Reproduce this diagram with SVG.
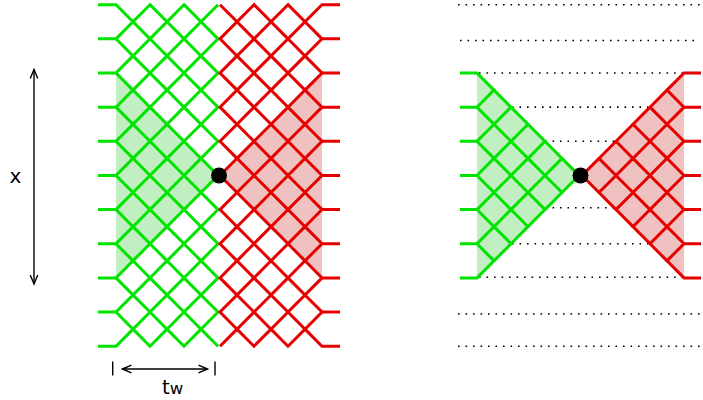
<svg xmlns="http://www.w3.org/2000/svg" width="703" height="400" viewBox="0 0 703 400">
<style>
.g{fill:none;stroke:#00e400;stroke-width:3;stroke-linejoin:miter}
.r{fill:none;stroke:#e60000;stroke-width:3;stroke-linejoin:miter}
.gf{fill:#c1efc1;stroke:none}
.rf{fill:#efc1c1;stroke:none}
.dot{fill:#000}
.dl{fill:none;stroke:#000;stroke-width:1.6;stroke-dasharray:1.6 5.9}
.dim{fill:none;stroke:#000;stroke-width:1.4}
.lbl{font-family:"DejaVu Sans","Liberation Sans",sans-serif;fill:#000}
</style>
<defs>
<marker id="arr" viewBox="-11 -6 13 12" refX="0" refY="0" markerWidth="13" markerHeight="12" markerUnits="userSpaceOnUse" orient="auto-start-reverse">
<path d="M-9,-3.8 L0,0 L-9,3.8" fill="none" stroke="#000" stroke-width="1.4"/>
</marker>
</defs>

<g id="left-panel">
<g id="left-shading">
<polygon class="gf" points="116,73 218,175.45 116,277.9"/>
<polygon class="rf" points="322,73 220,175.45 322,277.9"/>
</g>
<g id="left-green">
<path class="g" d="M98 4.7 H116 l17 17.075 l-17 17.075 l17 17.075 l-17 17.075 l17 17.075 l-17 17.075 l17 17.075 l-17 17.075 l17 17.075 l-17 17.075 l17 17.075 l-17 17.075 l17 17.075 l-17 17.075 l17 17.075 l-17 17.075 l17 17.075 l-17 17.075 l17 17.075 l-17 17.075 H98"/>
<path class="g" d="M150 4.7 l-17 17.075 l17 17.075 l-17 17.075 l17 17.075 l-17 17.075 l17 17.075 l-17 17.075 l17 17.075 l-17 17.075 l17 17.075 l-17 17.075 l17 17.075 l-17 17.075 l17 17.075 l-17 17.075 l17 17.075 l-17 17.075 l17 17.075 l-17 17.075 l17 17.075 l17 -17.075 l-17 -17.075 l17 -17.075 l-17 -17.075 l17 -17.075 l-17 -17.075 l17 -17.075 l-17 -17.075 l17 -17.075 l-17 -17.075 l17 -17.075 l-17 -17.075 l17 -17.075 l-17 -17.075 l17 -17.075 l-17 -17.075 l17 -17.075 l-17 -17.075 l17 -17.075 l-17 -17.075 Z"/>
<path class="g" d="M184 4.7 l-17 17.075 l17 17.075 l-17 17.075 l17 17.075 l-17 17.075 l17 17.075 l-17 17.075 l17 17.075 l-17 17.075 l17 17.075 l-17 17.075 l17 17.075 l-17 17.075 l17 17.075 l-17 17.075 l17 17.075 l-17 17.075 l17 17.075 l-17 17.075 l17 17.075 l17 -17.075 l-17 -17.075 l17 -17.075 l-17 -17.075 l17 -17.075 l-17 -17.075 l17 -17.075 l-17 -17.075 l17 -17.075 l-17 -17.075 l17 -17.075 l-17 -17.075 l17 -17.075 l-17 -17.075 l17 -17.075 l-17 -17.075 l17 -17.075 l-17 -17.075 l17 -17.075 l-17 -17.075 Z"/>
<path class="g" d="M218 4.7 l-17 17.075 l17 17.075 l-17 17.075 l17 17.075 l-17 17.075 l17 17.075 l-17 17.075 l17 17.075 l-17 17.075 l17 17.075 l-17 17.075 l17 17.075 l-17 17.075 l17 17.075 l-17 17.075 l17 17.075 l-17 17.075 l17 17.075 l-17 17.075 l17 17.075"/>
<path class="g" d="M98 38.85 H116 M98 73 H116 M98 107.15 H116 M98 141.3 H116 M98 175.45 H116 M98 209.6 H116 M98 243.75 H116 M98 277.9 H116 M98 312.05 H116"/>
</g>
<g id="left-red">
<path class="r" d="M220 4.7 l17 17.075 l-17 17.075 l17 17.075 l-17 17.075 l17 17.075 l-17 17.075 l17 17.075 l-17 17.075 l17 17.075 l-17 17.075 l17 17.075 l-17 17.075 l17 17.075 l-17 17.075 l17 17.075 l-17 17.075 l17 17.075 l-17 17.075 l17 17.075 l-17 17.075"/>
<path class="r" d="M254 4.7 l-17 17.075 l17 17.075 l-17 17.075 l17 17.075 l-17 17.075 l17 17.075 l-17 17.075 l17 17.075 l-17 17.075 l17 17.075 l-17 17.075 l17 17.075 l-17 17.075 l17 17.075 l-17 17.075 l17 17.075 l-17 17.075 l17 17.075 l-17 17.075 l17 17.075 l17 -17.075 l-17 -17.075 l17 -17.075 l-17 -17.075 l17 -17.075 l-17 -17.075 l17 -17.075 l-17 -17.075 l17 -17.075 l-17 -17.075 l17 -17.075 l-17 -17.075 l17 -17.075 l-17 -17.075 l17 -17.075 l-17 -17.075 l17 -17.075 l-17 -17.075 l17 -17.075 l-17 -17.075 Z"/>
<path class="r" d="M288 4.7 l-17 17.075 l17 17.075 l-17 17.075 l17 17.075 l-17 17.075 l17 17.075 l-17 17.075 l17 17.075 l-17 17.075 l17 17.075 l-17 17.075 l17 17.075 l-17 17.075 l17 17.075 l-17 17.075 l17 17.075 l-17 17.075 l17 17.075 l-17 17.075 l17 17.075 l17 -17.075 l-17 -17.075 l17 -17.075 l-17 -17.075 l17 -17.075 l-17 -17.075 l17 -17.075 l-17 -17.075 l17 -17.075 l-17 -17.075 l17 -17.075 l-17 -17.075 l17 -17.075 l-17 -17.075 l17 -17.075 l-17 -17.075 l17 -17.075 l-17 -17.075 l17 -17.075 l-17 -17.075 Z"/>
<path class="r" d="M340 4.7 H322 l-17 17.075 l17 17.075 l-17 17.075 l17 17.075 l-17 17.075 l17 17.075 l-17 17.075 l17 17.075 l-17 17.075 l17 17.075 l-17 17.075 l17 17.075 l-17 17.075 l17 17.075 l-17 17.075 l17 17.075 l-17 17.075 l17 17.075 l-17 17.075 l17 17.075 H340"/>
<path class="r" d="M322 38.85 H340 M322 73 H340 M322 107.15 H340 M322 141.3 H340 M322 175.45 H340 M322 209.6 H340 M322 243.75 H340 M322 277.9 H340 M322 312.05 H340"/>
</g>
<circle id="left-point" class="dot" cx="219" cy="175.5" r="8"/>
</g>

<g id="right-panel">
<g id="right-dotted">
<path class="dl" d="M458 4.7 H700"/>
<path class="dl" d="M460 40.5 H700"/>
<path class="dl" d="M479 73 H683"/>
<path class="dl" d="M512 107.15 H648"/>
<path class="dl" d="M545 141.3 H615"/>
<path class="dl" d="M545 207.8 H614"/>
<path class="dl" d="M512 243.75 H648"/>
<path class="dl" d="M479 277.2 H683"/>
<path class="dl" d="M458 314 H700"/>
<path class="dl" d="M458 346.3 H700"/>
</g>
<g id="right-shading">
<polygon class="gf" points="477,73 579,175.45 477,277.9"/>
<polygon class="rf" points="684,73 582,175.45 684,277.9"/>
</g>
<g id="right-green">
<path class="g" d="M460 73 H477 l17 17.075 l-17 17.075 l17 17.075 l-17 17.075 l17 17.075 l-17 17.075 l17 17.075 l-17 17.075 l17 17.075 l-17 17.075 l17 17.075 l-17 17.075 H460"/>
<path class="g" d="M494 90.075 l17 17.075 l-17 17.075 l17 17.075 l-17 17.075 l17 17.075 l-17 17.075 l17 17.075 l-17 17.075 l17 17.075 l-17 17.075"/>
<path class="g" d="M511 107.15 l17 17.075 l-17 17.075 l17 17.075 l-17 17.075 l17 17.075 l-17 17.075 l17 17.075 l-17 17.075"/>
<path class="g" d="M528 124.225 l17 17.075 l-17 17.075 l17 17.075 l-17 17.075 l17 17.075 l-17 17.075"/>
<path class="g" d="M545 141.3 l17 17.075 l-17 17.075 l17 17.075 l-17 17.075"/>
<path class="g" d="M562 158.375 l17 17.075 l-17 17.075"/>
<path class="g" d="M460 107.15 H477 M460 141.3 H477 M460 175.45 H477 M460 209.6 H477 M460 243.75 H477"/>
</g>
<g id="right-red">
<path class="r" d="M701 73 H684 l-17 17.075 l17 17.075 l-17 17.075 l17 17.075 l-17 17.075 l17 17.075 l-17 17.075 l17 17.075 l-17 17.075 l17 17.075 l-17 17.075 l17 17.075 H701"/>
<path class="r" d="M667 90.075 l-17 17.075 l17 17.075 l-17 17.075 l17 17.075 l-17 17.075 l17 17.075 l-17 17.075 l17 17.075 l-17 17.075 l17 17.075"/>
<path class="r" d="M650 107.15 l-17 17.075 l17 17.075 l-17 17.075 l17 17.075 l-17 17.075 l17 17.075 l-17 17.075 l17 17.075"/>
<path class="r" d="M633 124.225 l-17 17.075 l17 17.075 l-17 17.075 l17 17.075 l-17 17.075 l17 17.075"/>
<path class="r" d="M616 141.3 l-17 17.075 l17 17.075 l-17 17.075 l17 17.075"/>
<path class="r" d="M599 158.375 l-17 17.075 l17 17.075"/>
<path class="r" d="M684 107.15 H701 M684 141.3 H701 M684 175.45 H701 M684 209.6 H701 M684 243.75 H701"/>
</g>
<circle id="right-point" class="dot" cx="580.5" cy="175.5" r="8"/>
</g>

<g id="connectors">
<line class="dim" x1="34" y1="69.5" x2="34" y2="284" marker-start="url(#arr)" marker-end="url(#arr)"/>
<line class="dim" x1="112.7" y1="361.5" x2="112.7" y2="375.5"/>
<line class="dim" x1="215" y1="361.5" x2="215" y2="375.5"/>
<line class="dim" x1="122.5" y1="369" x2="207.5" y2="369" marker-start="url(#arr)" marker-end="url(#arr)"/>
</g>

<g id="labels">
<text class="lbl" x="9.5" y="183" font-size="20">x</text>
<text class="lbl" x="162" y="394" font-size="20">t<tspan font-size="16.5">w</tspan></text>
</g>
</svg>
